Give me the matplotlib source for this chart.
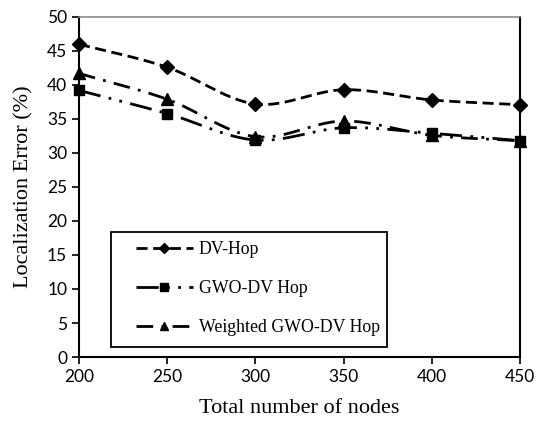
import numpy as np
import matplotlib
matplotlib.use("Agg")
import matplotlib.pyplot as plt
from matplotlib.patches import Rectangle

# data
nodes = [200, 250, 300, 350, 400, 450]
dv_hop = [46.0, 42.6, 37.2, 39.3, 37.8, 37.1]
gwo_dv_hop = [39.2, 35.8, 31.9, 33.7, 32.9, 31.8]
weighted_gwo = [41.7, 37.9, 32.4, 34.7, 32.6, 31.8]
yticks = list(range(0, 51, 5))


def smooth(x, y, n=30):
    # Catmull-Rom curve through the points, like Excel's "smoothed line"
    x = np.asarray(x, float); y = np.asarray(y, float)
    px = np.concatenate([[2 * x[0] - x[1]], x, [2 * x[-1] - x[-2]]])
    py = np.concatenate([[2 * y[0] - y[1]], y, [2 * y[-1] - y[-2]]])
    xs, ys = [], []
    t = np.linspace(0, 1, n)
    for i in range(1, len(px) - 2):
        for p, out in ((px, xs), (py, ys)):
            p0, p1, p2, p3 = p[i - 1], p[i], p[i + 1], p[i + 2]
            out.extend(0.5 * ((2 * p1) + (-p0 + p2) * t
                              + (2 * p0 - 5 * p1 + 4 * p2 - p3) * t ** 2
                              + (-p0 + 3 * p1 - 3 * p2 + p3) * t ** 3))
    return np.array(xs), np.array(ys)


fig = plt.figure(figsize=(5.38, 4.24), dpi=100)
ax = fig.add_axes([0.1468, 0.158, 0.8197, 0.802])

series = [
    ("DV-Hop", dv_hop, "D", (0, (4, 2))),
    ("GWO-DV Hop", gwo_dv_hop, "s", (0, (8, 3, 1, 3, 1, 3))),
    ("Weighted GWO-DV Hop", weighted_gwo, "^", (0, (6, 3, 1, 3))),
]
msize = {"D": 7, "s": 7.5, "^": 8}
handles = []
for label, vals, mk, ls in series:
    sx, sy = smooth(nodes, vals)
    ax.plot(sx, sy, color="black", lw=2, linestyle=ls, clip_on=False, zorder=3)
    ax.plot(nodes, vals, linestyle="none", marker=mk, ms=msize[mk],
            color="black", clip_on=False, zorder=4)
    h, = ax.plot([], [], color="black", lw=2, linestyle=ls, marker=mk,
                 ms=msize[mk], label=label)
    handles.append(h)

ax.set_xlim(200, 450)
ax.set_ylim(0, 50)
ax.set_xticks(nodes)
ax.set_yticks(yticks)

tick_font = "Lato"
for lab in ax.get_xticklabels() + ax.get_yticklabels():
    lab.set_fontfamily(tick_font)
    lab.set_fontsize(12.5)
ax.tick_params(direction="out", length=5, width=1.2, color="black")

for side in ("left", "bottom", "right"):
    ax.spines[side].set_color("black")
    ax.spines[side].set_linewidth(1.5)
ax.spines["top"].set_color("#8a8a8a")
ax.spines["top"].set_linewidth(1.2)

ax.set_xlabel("Total number of nodes", fontfamily="Liberation Serif",
              fontsize=16, labelpad=10)
ax.set_ylabel("Localization Error (%)", fontfamily="Liberation Serif",
              fontsize=16, labelpad=10)

# legend box drawn by hand, entries placed inside it
ax.add_patch(Rectangle((0.0726, 0.029), 0.625, 0.339, transform=ax.transAxes,
                       facecolor="white", edgecolor="black", lw=1.3, zorder=5))
leg = ax.legend(handles=handles, loc="center left",
                bbox_to_anchor=(0.129, 0.2015), frameon=False,
                borderaxespad=0, borderpad=0, handlelength=3.2,
                handletextpad=0.35, labelspacing=1.25, markerscale=0.8,
                prop={"family": "Liberation Serif", "size": 12.8})
leg.set_zorder(6)

fig.savefig("out.png", dpi=100)
